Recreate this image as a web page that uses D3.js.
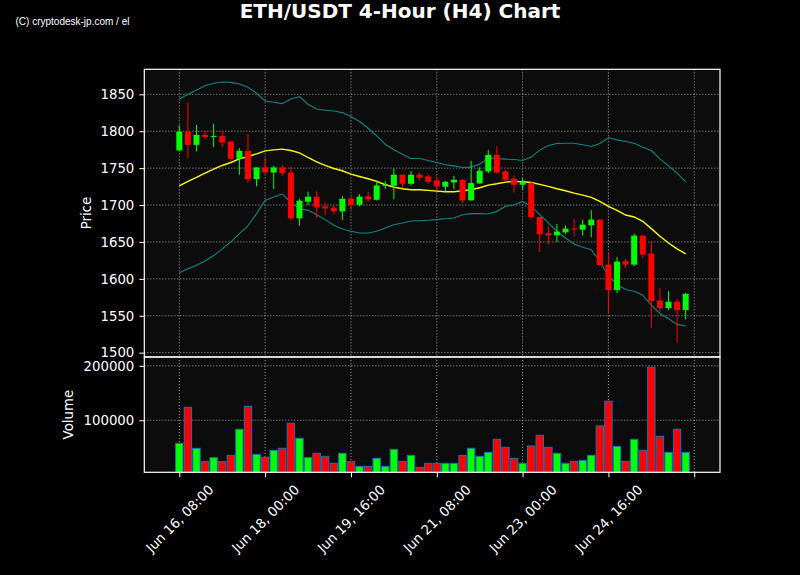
<!DOCTYPE html>
<html><head><meta charset="utf-8">
<script src="https://cdn.jsdelivr.net/npm/d3@7"></script>
<style>body{margin:0;background:#000}svg{display:block}</style>
</head><body>
<svg id="c" width="800" height="575"></svg>
<script>
// ---- data ----
const opens  = [1774,1799.5,1781.5,1795,1792.3,1793.7,1786,1762.6,1773.4,1735.1,1750.9,1744.1,1750.9,1744.1,1681.9,1704.5,1711.3,1698.2,1696.4,1691.4,1708.5,1700.4,1711.7,1707.2,1726.1,1726.1,1741,1728.8,1741,1738.7,1733.3,1724.8,1730.6,1734.2,1706.3,1729.3,1745.5,1768,1745.5,1735.6,1727.5,1729.7,1683.8,1661.7,1659,1663,1668,1666.6,1672.5,1680.2,1619.3,1584.7,1623.8,1619.3,1658.5,1634.2,1570.7,1560.3,1568.9,1557.6];
const highs  = [1808,1839,1808.5,1800.5,1810,1801,1787,1777,1796,1751,1763.5,1753.1,1754,1752.2,1708.1,1718,1718.5,1703.6,1700,1712.1,1711.7,1714.9,1717.6,1733.3,1732.4,1749.5,1741.5,1745.9,1743.2,1741.9,1736.5,1732.9,1739.6,1735.1,1759.9,1751.3,1774.8,1779.7,1747.7,1740.1,1736.5,1732,1684.6,1671.2,1674.3,1672.5,1681,1680.2,1693.2,1681,1636,1629.7,1627,1661.2,1659.9,1650.9,1587.4,1583.3,1572.9,1581];
const lows   = [1773,1763.5,1772.5,1789,1778.4,1778.4,1760,1741,1729.7,1725.2,1742.3,1721.6,1739.6,1679.3,1672,1700,1682.4,1686.5,1687.8,1679.7,1693.7,1698.2,1704,1706.3,1721.6,1708.1,1723,1726.1,1733.3,1728.8,1719.8,1718.5,1721.6,1702.7,1706,1728.4,1743.2,1741.9,1731.5,1717.1,1720.7,1681,1636.5,1646.4,1650,1660.8,1657.6,1658.5,1656.3,1617.1,1554,1581,1614.8,1617.1,1628.4,1533.7,1555.4,1557.6,1513.5,1545];
const closes = [1799.5,1781.5,1795,1792.3,1793.7,1784.7,1762.6,1773.4,1735.1,1750.9,1744.1,1750.9,1743.2,1681.9,1705.8,1711.3,1696.8,1695.5,1691.4,1708.5,1700.4,1711.3,1707.6,1726.6,1727.9,1741,1728.8,1741,1736.9,1731.5,1725.2,1731.5,1734.2,1706.3,1729.7,1746.4,1768,1744.1,1734.2,1727.5,1730.6,1683.8,1660.3,1659,1664,1668,1666.6,1673.4,1680.2,1618.5,1584.7,1623.4,1619.3,1658.5,1632.9,1569.8,1560.3,1568.9,1557.6,1579.7];
const volumes = [57700,123900,48500,23900,31300,23900,35600,83400,125800,37400,31900,44800,48500,94500,66900,31300,39300,33700,20900,39300,23900,15300,15300,30100,15300,46600,24500,35600,13500,20900,20900,20900,20900,35600,48500,33700,41100,65000,50300,30100,20900,52800,72400,50300,39300,20900,24500,26400,35600,89600,135000,52100,24500,65000,44800,197500,70600,41100,83400,41100];
const maLine = [1726.1,1732,1737.4,1743.2,1748.6,1753.6,1757.6,1762.6,1765.8,1769.4,1773.4,1774.8,1775.7,1773.9,1770.7,1764.4,1758.5,1753.6,1749.5,1746.4,1741.9,1738.7,1735.6,1732,1727.5,1724.3,1722,1720.7,1720.7,1719.8,1718.9,1718,1718,1719.4,1720.7,1723.4,1727,1728.8,1731.1,1732,1731.5,1730.6,1727.9,1725.2,1722,1719.4,1716.2,1713.5,1710.3,1704.9,1698.2,1692.8,1686.5,1683.8,1677.9,1668,1657.6,1648.6,1640.5,1633.8];
const upperBand = [1843.7,1850,1855.9,1861.7,1864.9,1866.7,1866.2,1864,1859.5,1851.4,1841,1839.2,1837.4,1843.7,1846.8,1836.5,1830.2,1828.4,1827.5,1825.2,1819.8,1813.1,1804,1793.7,1782.4,1774.8,1768.9,1763.1,1763.1,1760.4,1757.6,1754.5,1753.1,1750.9,1751.3,1755.4,1763.5,1763.1,1762.2,1761.7,1760.4,1764.9,1774.4,1780.7,1783.4,1783.8,1783.8,1781.6,1779.3,1783.4,1791.1,1788.3,1786,1783.8,1778.4,1773.9,1762.6,1753.1,1743.2,1731.5];
const lowerBand = [1608.1,1613.5,1618.4,1624.3,1631.5,1640.5,1650,1661.2,1672,1688.3,1706.3,1710.8,1714.9,1703.6,1695,1692.8,1686.9,1680.2,1672.5,1667.5,1664.4,1662.1,1662.1,1664.4,1668.9,1673.4,1675.7,1678.4,1678.8,1679.3,1680.2,1681.5,1682.4,1686.9,1688.3,1688.3,1687.8,1691.4,1698.2,1700.4,1704.9,1698.2,1686.9,1675.7,1664.4,1655.4,1647.3,1642.8,1639.6,1623.8,1603.6,1592.3,1585.6,1583.3,1577.9,1564.4,1553.1,1545.9,1538.3,1536];
const xTickIndex = [0,10,20,30,40,50,60];
const xTickLabels = ["Jun 16, 08:00","Jun 18, 00:00","Jun 19, 16:00","Jun 21, 08:00","Jun 23, 00:00","Jun 24, 16:00",""];
const priceTicks = [1500,1550,1600,1650,1700,1750,1800,1850];
const volumeTicks = [100000,200000];

// ---- layout ----
const L = 144.3, R = 720;
const pTop = 69.3, pBot = 357;
const vTop = 357, vBot = 472.3;
const UP = "#00ff00", DOWN = "#ff0000";
const FONT = "DejaVu Sans, sans-serif";

const svg = d3.select("#c");
svg.append("rect").attr("width",800).attr("height",575).attr("fill","#000");

const x = d3.scaleLinear().domain([-4.08, 63.0]).range([L, R]);
const yP = d3.scaleLinear().domain([1494.5, 1883.9]).range([356.7, pTop]);
const yV = d3.scaleLinear().domain([4400, 216200]).range([vBot, vTop]);

const defs = svg.append("defs");
defs.append("clipPath").attr("id","cp").append("rect").attr("x",L).attr("y",pTop).attr("width",R-L).attr("height",pBot-pTop);
defs.append("clipPath").attr("id","cv").append("rect").attr("x",L).attr("y",vTop).attr("width",R-L).attr("height",vBot-vTop);

// panel backgrounds
svg.append("rect").attr("x",L).attr("y",pTop).attr("width",R-L).attr("height",pBot-pTop).attr("fill","#0c0c0c");
svg.append("rect").attr("x",L).attr("y",vTop).attr("width",R-L).attr("height",vBot-vTop).attr("fill","#0c0c0c");

// grids
const grid = svg.append("g").attr("stroke","#a6a6a6").attr("stroke-width",0.9).attr("stroke-dasharray","1.1,1.9").attr("fill","none");
priceTicks.forEach(t => grid.append("line").attr("x1",L).attr("x2",R).attr("y1",yP(t)).attr("y2",yP(t)));
volumeTicks.forEach(t => grid.append("line").attr("x1",L).attr("x2",R).attr("y1",yV(t)).attr("y2",yV(t)));
xTickIndex.forEach(i => {
  grid.append("line").attr("x1",x(i)).attr("x2",x(i)).attr("y1",pTop).attr("y2",pBot);
  grid.append("line").attr("x1",x(i)).attr("x2",x(i)).attr("y1",vTop).attr("y2",vBot);
});

// bands & MA
const pg = svg.append("g").attr("clip-path","url(#cp)");
const line = arr => d3.line().x((d,i)=>x(i)).y(d=>yP(d))(arr);
pg.append("path").attr("d",line(upperBand)).attr("fill","none").attr("stroke","#0e8585").attr("stroke-width",1.1);
pg.append("path").attr("d",line(lowerBand)).attr("fill","none").attr("stroke","#0e8585").attr("stroke-width",1.1);
pg.append("path").attr("d",line(maLine)).attr("fill","none").attr("stroke","#ffff00").attr("stroke-width",1.4);

// candles
const step = x(1)-x(0);
const bw = step*0.7;
const idx = d3.range(opens.length);
const col = i => closes[i] >= opens[i] ? UP : DOWN;
pg.selectAll("line.w").data(idx).join("line").attr("class","w")
  .attr("x1",i=>x(i)).attr("x2",i=>x(i)).attr("y1",i=>yP(highs[i])).attr("y2",i=>yP(lows[i]))
  .attr("stroke",col).attr("stroke-width",1);
pg.selectAll("rect.b").data(idx).join("rect").attr("class","b")
  .attr("x",i=>x(i)-bw/2).attr("width",bw)
  .attr("y",i=>yP(Math.max(opens[i],closes[i])))
  .attr("height",i=>Math.max(1, yP(Math.min(opens[i],closes[i])) - yP(Math.max(opens[i],closes[i]))))
  .attr("fill",col);

// volume bars
const vg = svg.append("g").attr("clip-path","url(#cv)");
const vw = step*0.86;
vg.selectAll("rect").data(idx).join("rect")
  .attr("x",i=>x(i)-vw/2).attr("width",vw)
  .attr("y",i=>yV(volumes[i])).attr("height",i=>yV(0)-yV(volumes[i]))
  .attr("fill",col).attr("stroke","#1f6fb0").attr("stroke-width",1);

// spines
svg.append("rect").attr("x",L).attr("y",pTop).attr("width",R-L).attr("height",pBot-pTop).attr("fill","none").attr("stroke","#fff").attr("stroke-width",1.2);
svg.append("rect").attr("x",L).attr("y",vTop).attr("width",R-L).attr("height",vBot-vTop).attr("fill","none").attr("stroke","#fff").attr("stroke-width",1.2);

// axes
function styleAxis(g){
  g.select(".domain").remove();
  g.selectAll(".tick line").attr("stroke","#fff").attr("stroke-width",1);
  g.selectAll(".tick text").attr("fill","#fff").attr("font-family",FONT).attr("font-size","13.3px");
}
svg.append("g").attr("transform",`translate(${L},0)`)
  .call(d3.axisLeft(yP).tickValues(priceTicks).tickSize(5).tickPadding(5).tickFormat(d3.format("d")))
  .call(styleAxis);
svg.append("g").attr("transform",`translate(${L},0)`)
  .call(d3.axisLeft(yV).tickValues(volumeTicks).tickSize(5).tickPadding(5).tickFormat(d3.format("d")))
  .call(styleAxis);
const xa = svg.append("g").attr("transform",`translate(0,${vBot})`)
  .call(d3.axisBottom(x).tickValues(xTickIndex).tickSize(5).tickFormat((d,i)=>xTickLabels[i]))
  .call(styleAxis);
xa.selectAll(".tick text")
  .attr("text-anchor","middle").attr("dy",null).attr("y",null)
  .attr("dominant-baseline","central")
  .attr("transform","translate(0,46.5) rotate(-45)");

// axis titles
svg.append("text").attr("transform",`translate(86,${(pTop+pBot)/2}) rotate(-90)`)
  .attr("text-anchor","middle").attr("dominant-baseline","central")
  .attr("fill","#fff").attr("font-family",FONT).attr("font-size","13.3px").text("Price");
svg.append("text").attr("transform",`translate(68,${(vTop+vBot)/2}) rotate(-90)`)
  .attr("text-anchor","middle").attr("dominant-baseline","central")
  .attr("fill","#fff").attr("font-family",FONT).attr("font-size","13.3px").text("Volume");

// title
svg.append("text").attr("x",400).attr("y",17.5).attr("text-anchor","middle")
  .attr("fill","#fff").attr("font-family",FONT).attr("font-weight","bold").attr("font-size","20px")
  .text("ETH/USDT 4-Hour (H4) Chart");
svg.append("text").attr("x",15.5).attr("y",24.6)
  .attr("fill","#fff").attr("font-family","Liberation Sans, Arial, sans-serif").attr("font-size","10px")
  .text("(C) cryptodesk-jp.com / el");
</script>
</body></html>
